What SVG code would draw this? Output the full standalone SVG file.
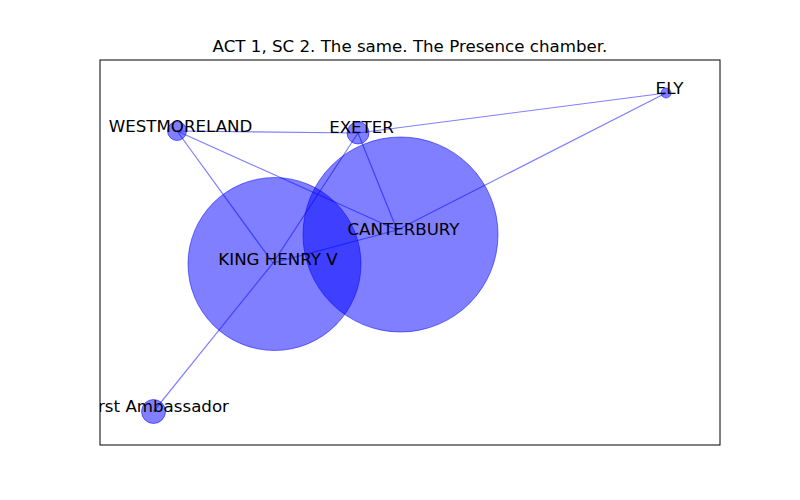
<svg xmlns="http://www.w3.org/2000/svg" width="800" height="500" viewBox="0 0 800 500">
<style>
.edge{stroke:#0000ff;stroke-opacity:0.5;stroke-width:1.2;fill:none}
.node{fill:#0000ff;fill-opacity:0.5;stroke:#0000ff;stroke-opacity:0.5;stroke-width:1}
.lbl{font-family:"DejaVu Sans",sans-serif;font-size:16.67px;fill:#000;text-anchor:middle}
</style>
<defs><clipPath id="ax"><rect x="100" y="60" width="620" height="385"/></clipPath></defs>
<rect x="0" y="0" width="800" height="500" fill="#fff"/>
<text x="410" y="52" class="lbl">ACT 1, SC 2. The same. The Presence chamber.</text>
<g id="edges" clip-path="url(#ax)">
<line class="edge" x1="177" y1="131" x2="358" y2="133"/>
<line class="edge" x1="177" y1="131" x2="273" y2="263"/>
<line class="edge" x1="177" y1="131" x2="397" y2="230"/>
<line class="edge" x1="358" y1="133" x2="666" y2="93"/>
<line class="edge" x1="358" y1="133" x2="397" y2="230"/>
<line class="edge" x1="358" y1="133" x2="273" y2="263"/>
<line class="edge" x1="153.5" y1="411.5" x2="273" y2="263"/>
<line class="edge" x1="273" y1="263" x2="397" y2="230"/>
<line class="edge" x1="397" y1="230" x2="666" y2="93"/>
</g>
<g id="node-westmoreland"><circle class="node" cx="177" cy="131" r="9.5"/></g>
<g id="node-exeter"><circle class="node" cx="358" cy="133" r="11"/></g>
<g id="node-ely"><circle class="node" cx="666" cy="93" r="5"/></g>
<g id="node-first-ambassador"><circle class="node" cx="153.5" cy="411.5" r="12"/></g>
<g id="node-king-henry-v"><circle class="node" cx="274.5" cy="264" r="86.5"/></g>
<g id="node-canterbury"><circle class="node" cx="400.5" cy="234.5" r="97.5"/></g>
<g id="labels" clip-path="url(#ax)">
<text class="lbl" x="180.5" y="131.5">WESTMORELAND</text>
<text class="lbl" x="361.5" y="132.5">EXETER</text>
<text class="lbl" x="669.5" y="93.5">ELY</text>
<text class="lbl" x="157" y="411.5">First Ambassador</text>
<text class="lbl" x="278" y="264.5">KING HENRY V</text>
<text class="lbl" x="403.5" y="234.5">CANTERBURY</text>
</g>
<rect x="100" y="60" width="620" height="385" fill="none" stroke="#000" stroke-width="1"/>
</svg>
